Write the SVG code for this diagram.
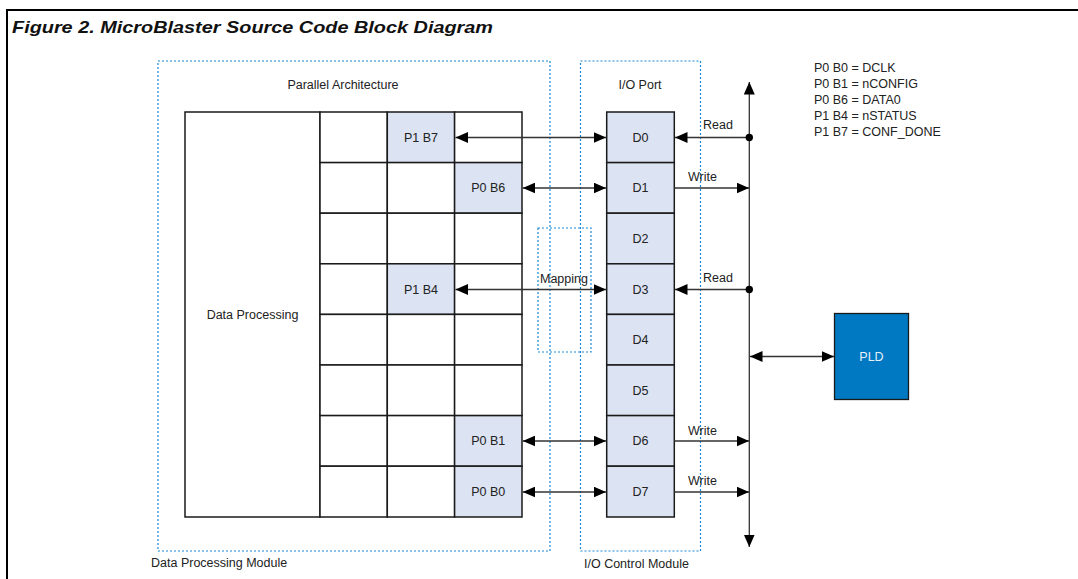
<svg xmlns="http://www.w3.org/2000/svg" width="1078" height="579" viewBox="0 0 1078 579">
<style>
.t{font-family:"Liberation Sans",Arial,sans-serif;font-size:12.5px;fill:#222}
.c{text-anchor:middle;dominant-baseline:central}
.grid{fill:#fff;stroke:#1a1a1a;stroke-width:1.5}
.sh{fill:#dce3f2;stroke:#1a1a1a;stroke-width:1.5}
.dot{fill:none;stroke:#1a8ad4;stroke-width:1.2;stroke-dasharray:2 2}
.ln{stroke:#333;stroke-width:1.3;fill:none}
</style>
<defs>
<marker id="ah" markerUnits="userSpaceOnUse" markerWidth="13" markerHeight="11" refX="12.5" refY="5.5" orient="auto-start-reverse">
<path d="M0,0 L12.5,5.5 L0,11 z" fill="#000"/>
</marker>
</defs>
<rect width="1078" height="579" fill="#fff"/>
<g id="frame">
<line x1="6" y1="10" x2="1078" y2="10" stroke="#000" stroke-width="2"/>
<line x1="7" y1="9" x2="7" y2="579" stroke="#000" stroke-width="2"/>
<text x="12" y="33" font-family="Liberation Sans,Arial,sans-serif" font-size="17" font-weight="bold" font-style="italic" fill="#111" textLength="481" lengthAdjust="spacingAndGlyphs">Figure 2. MicroBlaster Source Code Block Diagram</text>
</g>
<g id="dp-module">
<rect class="dot" x="158" y="61" width="392" height="490"/>
<text class="t" x="151" y="567">Data Processing Module</text>
<text class="t" x="343" y="89" text-anchor="middle">Parallel Architecture</text>
</g>
<g id="io-module">
<rect class="dot" x="580.5" y="61" width="120" height="490"/>
<text class="t" x="584" y="568">I/O Control Module</text>
<text class="t" x="640" y="89" text-anchor="middle">I/O Port</text>
</g>
<g id="mapping">
<rect class="dot" x="538" y="228" width="53" height="124"/>
</g>
<g id="data-processing">
<rect class="grid" x="185" y="112" width="135" height="405"/>
<text class="t c" x="252.5" y="315">Data Processing</text>
</g>
<g id="grid">
<rect class="grid" x="320" y="112" width="67.3" height="50.6"/>
<rect class="sh" x="387.3" y="112" width="67.3" height="50.6"/>
<rect class="grid" x="454.6" y="112" width="67.4" height="50.6"/>
<rect class="grid" x="320" y="162.6" width="67.3" height="50.6"/>
<rect class="grid" x="387.3" y="162.6" width="67.3" height="50.6"/>
<rect class="sh" x="454.6" y="162.6" width="67.4" height="50.6"/>
<rect class="grid" x="320" y="213.2" width="67.3" height="50.6"/>
<rect class="grid" x="387.3" y="213.2" width="67.3" height="50.6"/>
<rect class="grid" x="454.6" y="213.2" width="67.4" height="50.6"/>
<rect class="grid" x="320" y="263.8" width="67.3" height="50.6"/>
<rect class="sh" x="387.3" y="263.8" width="67.3" height="50.6"/>
<rect class="grid" x="454.6" y="263.8" width="67.4" height="50.6"/>
<rect class="grid" x="320" y="314.4" width="67.3" height="50.6"/>
<rect class="grid" x="387.3" y="314.4" width="67.3" height="50.6"/>
<rect class="grid" x="454.6" y="314.4" width="67.4" height="50.6"/>
<rect class="grid" x="320" y="365" width="67.3" height="50.6"/>
<rect class="grid" x="387.3" y="365" width="67.3" height="50.6"/>
<rect class="grid" x="454.6" y="365" width="67.4" height="50.6"/>
<rect class="grid" x="320" y="415.6" width="67.3" height="50.6"/>
<rect class="grid" x="387.3" y="415.6" width="67.3" height="50.6"/>
<rect class="sh" x="454.6" y="415.6" width="67.4" height="50.6"/>
<rect class="grid" x="320" y="466.2" width="67.3" height="50.8"/>
<rect class="grid" x="387.3" y="466.2" width="67.3" height="50.8"/>
<rect class="sh" x="454.6" y="466.2" width="67.4" height="50.8"/>
<text class="t c" x="421" y="137.5">P1 B7</text>
<text class="t c" x="488.3" y="188">P0 B6</text>
<text class="t c" x="421" y="289.5">P1 B4</text>
<text class="t c" x="488.3" y="441">P0 B1</text>
<text class="t c" x="488.3" y="492">P0 B0</text>
</g>
<g id="io-port">
<rect class="sh" x="606.7" y="112" width="67.6" height="50.6"/>
<rect class="sh" x="606.7" y="162.6" width="67.6" height="50.6"/>
<rect class="sh" x="606.7" y="213.2" width="67.6" height="50.6"/>
<rect class="sh" x="606.7" y="263.8" width="67.6" height="50.6"/>
<rect class="sh" x="606.7" y="314.4" width="67.6" height="50.6"/>
<rect class="sh" x="606.7" y="365" width="67.6" height="50.6"/>
<rect class="sh" x="606.7" y="415.6" width="67.6" height="50.6"/>
<rect class="sh" x="606.7" y="466.2" width="67.6" height="50.8"/>
<text class="t c" x="640.5" y="137.5">D0</text>
<text class="t c" x="640.5" y="188">D1</text>
<text class="t c" x="640.5" y="238.5">D2</text>
<text class="t c" x="640.5" y="289.5">D3</text>
<text class="t c" x="640.5" y="340">D4</text>
<text class="t c" x="640.5" y="390.5">D5</text>
<text class="t c" x="640.5" y="441">D6</text>
<text class="t c" x="640.5" y="492">D7</text>
</g>
<g id="pld">
<rect x="834.5" y="313.5" width="74" height="86" fill="#0079c2" stroke="#1a1a1a" stroke-width="1.3"/>
<text class="c" x="871.5" y="357" font-family="Liberation Sans,Arial,sans-serif" font-size="12.5" fill="#e8f0f8">PLD</text>
</g>
<g id="legend">
<text class="t" x="814" y="72" font-size="12">P0 B0 = DCLK</text>
<text class="t" x="814" y="88" font-size="12">P0 B1 = nCONFIG</text>
<text class="t" x="814" y="104" font-size="12">P0 B6 = DATA0</text>
<text class="t" x="814" y="120" font-size="12">P1 B4 = nSTATUS</text>
<text class="t" x="814" y="136" font-size="12">P1 B7 = CONF_DONE</text>
</g>
<g id="connectors">
<line class="ln" x1="455.5" y1="137.5" x2="606" y2="137.5" marker-start="url(#ah)" marker-end="url(#ah)"/>
<line class="ln" x1="522.8" y1="188" x2="606" y2="188" marker-start="url(#ah)" marker-end="url(#ah)"/>
<line class="ln" x1="455.5" y1="289.5" x2="606" y2="289.5" marker-start="url(#ah)" marker-end="url(#ah)"/>
<line class="ln" x1="522.8" y1="441" x2="606" y2="441" marker-start="url(#ah)" marker-end="url(#ah)"/>
<line class="ln" x1="522.8" y1="492" x2="606" y2="492" marker-start="url(#ah)" marker-end="url(#ah)"/>
<line class="ln" x1="749.3" y1="82" x2="749.3" y2="547" marker-start="url(#ah)" marker-end="url(#ah)"/>
<line class="ln" x1="749.3" y1="137.5" x2="675" y2="137.5" marker-end="url(#ah)"/>
<circle cx="749.3" cy="137.5" r="3.7" fill="#000"/>
<line class="ln" x1="749.3" y1="289.5" x2="675" y2="289.5" marker-end="url(#ah)"/>
<circle cx="749.3" cy="289.5" r="3.7" fill="#000"/>
<line class="ln" x1="674.3" y1="188" x2="749" y2="188" marker-end="url(#ah)"/>
<line class="ln" x1="674.3" y1="441" x2="749" y2="441" marker-end="url(#ah)"/>
<line class="ln" x1="674.3" y1="492" x2="749" y2="492" marker-end="url(#ah)"/>
<line class="ln" x1="750" y1="356.5" x2="834" y2="356.5" marker-start="url(#ah)" marker-end="url(#ah)"/>
<text class="t" x="703" y="129">Read</text>
<text class="t" x="688" y="181">Write</text>
<text class="t" x="703" y="282">Read</text>
<text class="t" x="688" y="435">Write</text>
<text class="t" x="688" y="485">Write</text>
<text class="t" x="540" y="283">Mapping</text>
</g>
</svg>
